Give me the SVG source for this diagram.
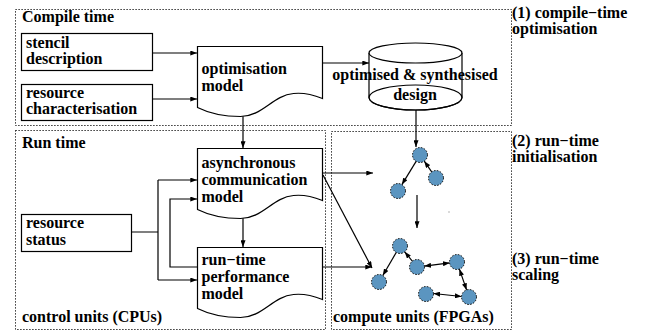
<svg xmlns="http://www.w3.org/2000/svg" xmlns:xlink="http://www.w3.org/1999/xlink" width="662" height="330" viewBox="0 0 662 330">
  <style>
    text { font-family: "Liberation Serif", "Times New Roman", Times, serif; font-weight: bold; font-size: 16px; fill: #000; }
    .mid { text-anchor: middle; }
    .region { fill: none; stroke: #000; stroke-width: 1; stroke-dasharray: 1.2 1.8; }
    .box { fill: #fff; stroke: #000; stroke-width: 1.2; }
    .wire { fill: none; stroke: #000; stroke-width: 1.2; }
    .arrow { fill: none; stroke: #000; stroke-width: 1.2; marker-end: url(#head); }
    .both { fill: none; stroke: #000; stroke-width: 1.2; marker-start: url(#head); marker-end: url(#head); }
    .unit { fill: #5b95c0; stroke: #000; stroke-width: 1; stroke-dasharray: 1.5 1.5; }
  </style>
  <defs>
    <marker id="head" viewBox="0 0 8 6" refX="8" refY="3" markerWidth="7" markerHeight="5" markerUnits="userSpaceOnUse" orient="auto-start-reverse">
      <path d="M0,0 L8,3 L0,6 Z" fill="#000"/>
    </marker>
    <!-- document shape with wavy bottom edge -->
    <path id="doc" d="M0,0 H125 V52 C115,48 105,46 96,47 C75,49 65,70 43,70 C25,70 10,66 0,61 Z"/>
  </defs>

  <!-- regions -->
  <g id="regions">
    <rect class="region" x="15.5" y="9.5" width="496" height="116"/>
    <rect class="region" x="15.5" y="130.5" width="310" height="199"/>
    <rect class="region" x="331.5" y="131.5" width="180" height="198"/>
    <text x="22" y="22">Compile time</text>
    <text x="22" y="148">Run time</text>
    <text x="22" y="322">control units (CPUs)</text>
    <text x="333" y="322">compute units (FPGAs)</text>
  </g>

  <!-- phase labels -->
  <g id="phases">
    <text x="512" y="18">(1) compile−time</text>
    <text x="512" y="34">optimisation</text>
    <text x="512" y="146">(2) run−time</text>
    <text x="512" y="162">initialisation</text>
    <text x="512" y="264">(3) run−time</text>
    <text x="512" y="280">scaling</text>
  </g>

  <!-- connectors -->
  <g id="connectors">
    <path class="arrow" d="M152,53 H197"/>
    <path class="arrow" d="M152,99 H197"/>
    <path class="arrow" d="M322,63 H369"/>
    <path class="arrow" d="M243,116 V148"/>
    <path class="arrow" d="M416,110 V147"/>
    <path class="wire" d="M131,232 H158 M158,180 V280"/>
    <path class="arrow" d="M158,180 H197"/>
    <path class="arrow" d="M158,280 H197"/>
    <path class="arrow" d="M197,267 H170 V199 H197"/>
    <path class="arrow" d="M243,216 V247"/>
    <path class="arrow" d="M323,173 H373"/>
    <path class="arrow" d="M323,175 L372,268"/>
    <path class="arrow" d="M323,267 H372"/>
    <path class="arrow" d="M417,195 V228"/>
  </g>

  <!-- compile-time nodes -->
  <g id="stencil">
    <rect class="box" x="21.5" y="33.5" width="131" height="37"/>
    <text x="26" y="48">stencil</text>
    <text x="26" y="64">description</text>
  </g>
  <g id="resource-characterisation">
    <rect class="box" x="21.5" y="84.5" width="131" height="36"/>
    <text x="26" y="98">resource</text>
    <text x="26" y="114">characterisation</text>
  </g>
  <g id="optimisation-model" transform="translate(197.5,46.5)">
    <use xlink:href="#doc" class="box"/>
    <text x="4" y="27">optimisation</text>
    <text x="4" y="44">model</text>
  </g>
  <g id="design">
    <path class="box" d="M369,53 V97.5 A46.5,12.5 0 0 0 462,97.5 V53"/>
    <ellipse class="box" cx="415.5" cy="53" rx="46.5" ry="10"/>
    <ellipse class="box" style="fill:none" cx="415.5" cy="97.5" rx="46.5" ry="12.5"/>
    <text class="mid" x="415" y="80">optimised &amp; synthesised</text>
    <text class="mid" x="415" y="100">design</text>
  </g>

  <!-- run-time nodes -->
  <g id="resource-status">
    <rect class="box" x="21.5" y="214.5" width="110" height="37"/>
    <text x="26" y="228">resource</text>
    <text x="26" y="245">status</text>
  </g>
  <g id="communication-model" transform="translate(197.5,148.5)">
    <use xlink:href="#doc" class="box"/>
    <text x="4" y="19.5">asynchronous</text>
    <text x="4" y="36.5">communication</text>
    <text x="4" y="53.5">model</text>
  </g>
  <g id="performance-model" transform="translate(197.5,247.5)">
    <use xlink:href="#doc" class="box"/>
    <text x="4" y="17.5">run−time</text>
    <text x="4" y="34.5">performance</text>
    <text x="4" y="51.5">model</text>
  </g>

  <!-- initial FPGA allocation -->
  <g id="initial-units">
    <path class="arrow" d="M416.1,161.4 L401.9,184.6"/>
    <path class="arrow" d="M431.7,171.8 L424.3,161.2"/>
    <circle class="unit" cx="420" cy="155" r="7.5"/>
    <circle class="unit" cx="436" cy="178" r="7.5"/>
    <circle class="unit" cx="398" cy="191" r="7.5"/>
  </g>

  <!-- scaled FPGA allocation -->
  <g id="scaled-units">
    <path class="arrow" d="M396.2,252.5 L382.8,275.5"/>
    <path class="arrow" d="M412.3,261.2 L404.7,251.8"/>
    <path class="both" d="M424.4,266.1 L449.6,262.9"/>
    <path class="both" d="M459.4,269.1 L466.6,289.9"/>
    <path class="both" d="M461.5,296.5 L433.5,293.5"/>
    <circle class="unit" cx="400" cy="246" r="7.5"/>
    <circle class="unit" cx="379" cy="282" r="7.5"/>
    <circle class="unit" cx="417" cy="267" r="7.5"/>
    <circle class="unit" cx="457" cy="262" r="7.5"/>
    <circle class="unit" cx="469" cy="297" r="7.5"/>
    <circle class="unit" cx="426" cy="294" r="7.5"/>
  </g>
  <circle cx="449" cy="212" r="0.7" fill="#999"/>
</svg>
